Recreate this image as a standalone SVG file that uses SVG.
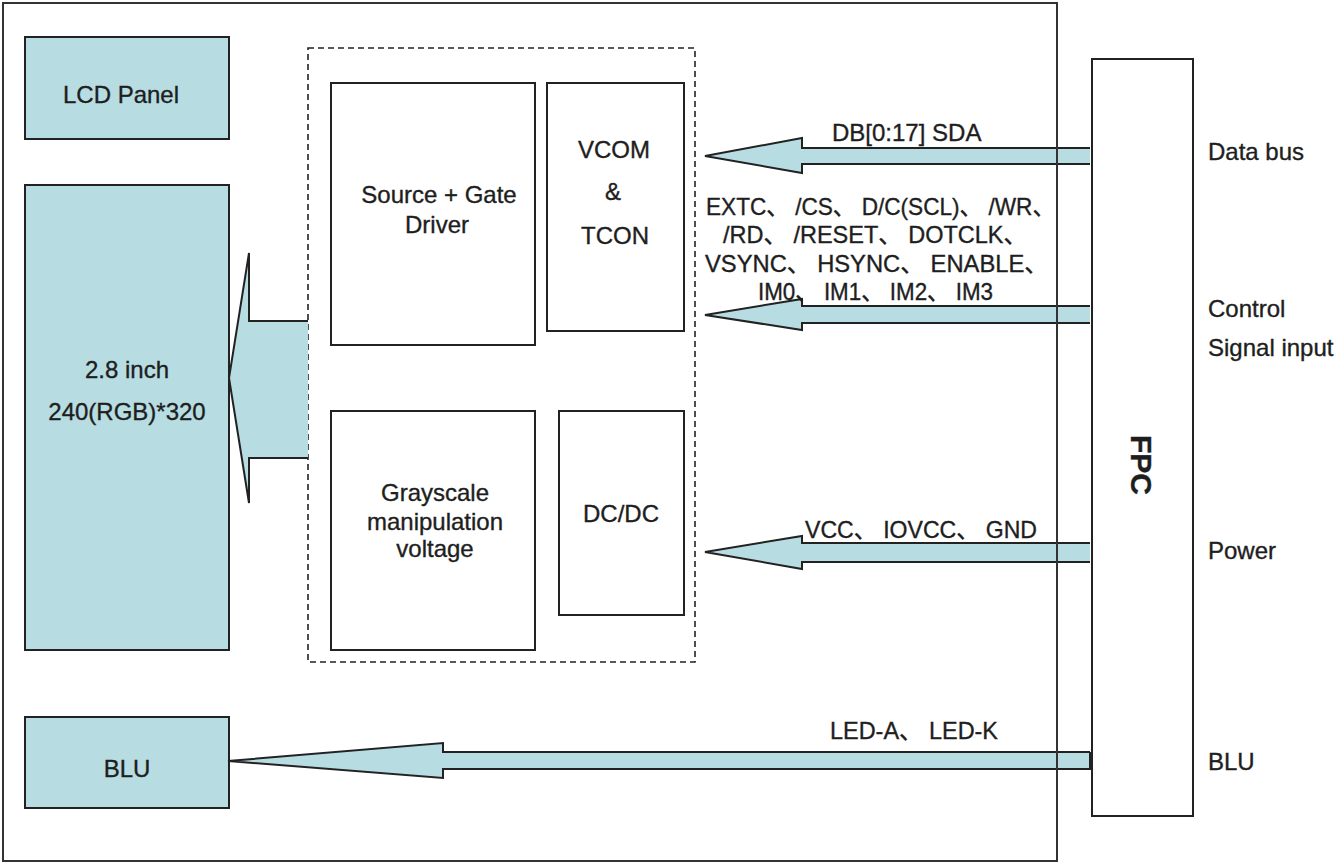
<svg xmlns="http://www.w3.org/2000/svg" width="1342" height="866" viewBox="0 0 1342 866">
<style>
.t{font-family:"Liberation Sans","Noto Sans CJK SC",Arial,sans-serif;font-size:24px;fill:#1e1e1e;stroke:#1e1e1e;stroke-width:0.35px}
.c{text-anchor:middle}
.box{fill:#b7dde2;stroke:#222;stroke-width:2}
.wbox{fill:#fff;stroke:#222;stroke-width:2}
.af{fill:#b7dde2;stroke:none}
.as{fill:none;stroke:#222;stroke-width:2;stroke-linejoin:miter}
</style>
<rect width="1342" height="866" fill="#fff"/>
<g id="dashed-group">
<rect x="308" y="48" width="387" height="614" fill="none" stroke="#222" stroke-width="1.6" stroke-dasharray="6,4"/>
</g>
<g id="lcd-panel">
<rect class="box" x="25" y="37" width="204" height="102"/>
<text class="t c" x="121" y="103">LCD Panel</text>
</g>
<g id="display">
<rect class="box" x="25" y="185" width="204" height="465"/>
<text class="t c" x="127" y="378">2.8 inch</text>
<text class="t c" x="127" y="420">240(RGB)*320</text>
</g>
<g id="blu">
<rect class="box" x="25" y="717" width="204" height="91"/>
<text class="t c" x="127" y="777">BLU</text>
</g>
<g id="driver">
<rect class="wbox" x="331" y="83" width="204" height="262"/>
<text class="t c" x="439" y="203">Source + Gate</text>
<text class="t c" x="437" y="233">Driver</text>
</g>
<g id="vcom">
<rect class="wbox" x="547" y="83" width="137" height="248"/>
<text class="t c" x="614" y="158">VCOM</text>
<text class="t c" x="613" y="200">&amp;</text>
<text class="t c" x="615" y="244">TCON</text>
</g>
<g id="grayscale">
<rect class="wbox" x="331" y="411" width="204" height="239"/>
<text class="t c" x="435" y="501">Grayscale</text>
<text class="t c" x="435" y="530">manipulation</text>
<text class="t c" x="435" y="557">voltage</text>
</g>
<g id="dcdc">
<rect class="wbox" x="559" y="411" width="125" height="204"/>
<text class="t c" x="621" y="522">DC/DC</text>
</g>
<g id="fpc">
<rect class="wbox" x="1092" y="59" width="101" height="757"/>
<text class="t c" transform="translate(1131,465) rotate(90)" x="0" y="0" style="font-weight:bold;font-size:30px">FPC</text>
</g>
<g id="connectors">
<path class="af" d="M308,321 H249 V253 L229,378 L249,503 V458 H308 Z"/>
<path class="as" d="M308,321 H249 V253 L229,378 L249,503 V458 H308"/>
<path class="af" d="M1090,148 H802 V138 L705,156 L802,173 V164 H1090 Z"/>
<path class="as" d="M1090,148 H802 V138 L705,156 L802,173 V164 H1090"/>
<path class="af" d="M1090,306 H802 V299 L705,315 L802,330 V323 H1090 Z"/>
<path class="as" d="M1090,306 H802 V299 L705,315 L802,330 V323 H1090"/>
<path class="af" d="M1090,543 H802 V536 L705,552 L802,569 V562 H1090 Z"/>
<path class="as" d="M1090,543 H802 V536 L705,552 L802,569 V562 H1090"/>
<path class="af" d="M1090,752 H443 V743 L228,761 L443,778 V769 H1090 Z"/>
<path class="as" d="M1090,752 H443 V743 L228,761 L443,778 V769 H1090 V752"/>
</g>
<g id="labels">
<text class="t" x="832" y="141">DB[0:17]  SDA</text>
<text class="t" x="706" y="215" textLength="349" lengthAdjust="spacingAndGlyphs">EXTC、 /CS、 D/C(SCL)、 /WR、</text>
<text class="t" x="723" y="243" textLength="304" lengthAdjust="spacingAndGlyphs">/RD、 /RESET、 DOTCLK、</text>
<text class="t" x="705" y="272" textLength="343" lengthAdjust="spacingAndGlyphs">VSYNC、 HSYNC、 ENABLE、</text>
<text class="t" x="758" y="300" textLength="235" lengthAdjust="spacingAndGlyphs">IM0、 IM1、 IM2、 IM3</text>
<text class="t" x="805" y="538" textLength="232" lengthAdjust="spacingAndGlyphs">VCC、 IOVCC、 GND</text>
<text class="t" x="830" y="739" textLength="168" lengthAdjust="spacingAndGlyphs">LED-A、 LED-K</text>
<text class="t" x="1208" y="160">Data bus</text>
<text class="t" x="1208" y="317">Control</text>
<text class="t" x="1208" y="356">Signal input</text>
<text class="t" x="1208" y="559">Power</text>
<text class="t" x="1208" y="770">BLU</text>
</g>
<g id="frame">
<rect x="3" y="3" width="1054" height="858" fill="none" stroke="#333" stroke-width="2"/>
</g>
</svg>
